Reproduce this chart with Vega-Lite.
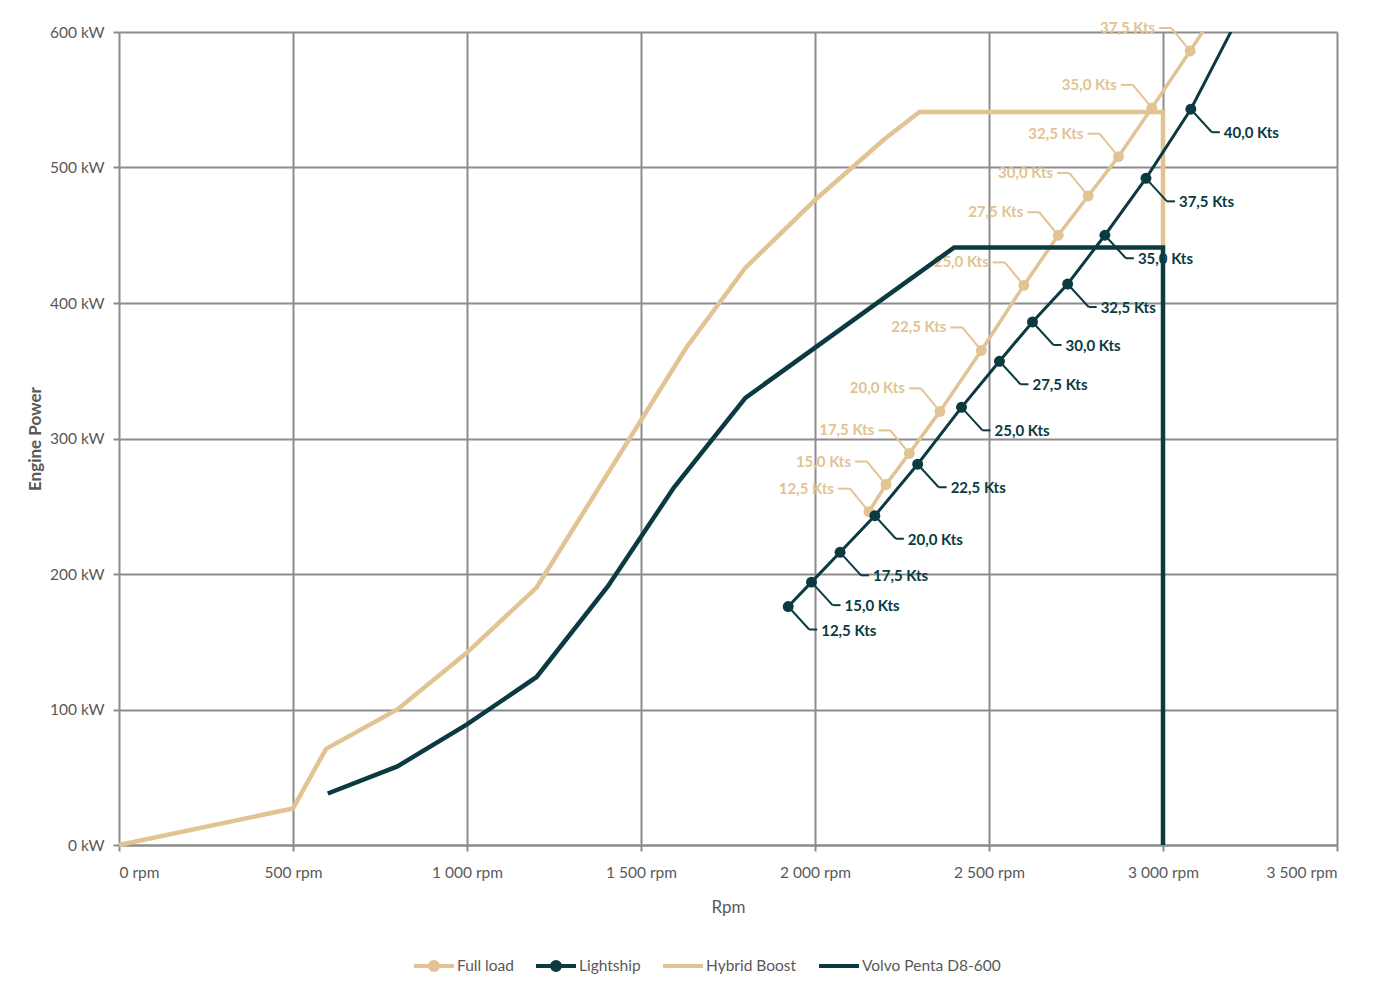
{
  "$schema": "https://vega.github.io/schema/vega-lite/v6.json",
  "width": 1218,
  "height": 813,
  "autosize": {"type": "none"},
  "padding": {"left": 119, "top": 32, "right": 63, "bottom": 155},
  "background": "white",
  "config": {
    "view": {"stroke": null},
    "font": "Lato, Liberation Sans, sans-serif"
  },
  "data": {
    "values": [
      {"series": "Hybrid Boost", "rpm": 0, "kW": 0},
      {"series": "Hybrid Boost", "rpm": 500, "kW": 27},
      {"series": "Hybrid Boost", "rpm": 595, "kW": 71},
      {"series": "Hybrid Boost", "rpm": 800, "kW": 100},
      {"series": "Hybrid Boost", "rpm": 1000, "kW": 142},
      {"series": "Hybrid Boost", "rpm": 1200, "kW": 190},
      {"series": "Hybrid Boost", "rpm": 1630, "kW": 367},
      {"series": "Hybrid Boost", "rpm": 1800, "kW": 426},
      {"series": "Hybrid Boost", "rpm": 2000, "kW": 476},
      {"series": "Hybrid Boost", "rpm": 2200, "kW": 521},
      {"series": "Hybrid Boost", "rpm": 2300, "kW": 541},
      {"series": "Hybrid Boost", "rpm": 3000, "kW": 541},
      {"series": "Hybrid Boost", "rpm": 3000, "kW": 441},
      {"series": "Volvo Penta D8-600", "rpm": 600, "kW": 38},
      {"series": "Volvo Penta D8-600", "rpm": 800, "kW": 58},
      {"series": "Volvo Penta D8-600", "rpm": 1000, "kW": 89},
      {"series": "Volvo Penta D8-600", "rpm": 1200, "kW": 124},
      {"series": "Volvo Penta D8-600", "rpm": 1405, "kW": 191},
      {"series": "Volvo Penta D8-600", "rpm": 1595, "kW": 264},
      {"series": "Volvo Penta D8-600", "rpm": 1800, "kW": 330},
      {"series": "Volvo Penta D8-600", "rpm": 2400, "kW": 441},
      {"series": "Volvo Penta D8-600", "rpm": 3000, "kW": 441},
      {"series": "Volvo Penta D8-600", "rpm": 3000, "kW": 0},
      {"series": "Full load", "rpm": 2155, "kW": 246, "label": "12,5 Kts"},
      {"series": "Full load", "rpm": 2204, "kW": 266, "label": "15,0 Kts"},
      {"series": "Full load", "rpm": 2271, "kW": 289, "label": "17,5 Kts"},
      {"series": "Full load", "rpm": 2359, "kW": 320, "label": "20,0 Kts"},
      {"series": "Full load", "rpm": 2478, "kW": 365, "label": "22,5 Kts"},
      {"series": "Full load", "rpm": 2600, "kW": 413, "label": "25,0 Kts"},
      {"series": "Full load", "rpm": 2699, "kW": 450, "label": "27,5 Kts"},
      {"series": "Full load", "rpm": 2785, "kW": 479, "label": "30,0 Kts"},
      {"series": "Full load", "rpm": 2872, "kW": 508, "label": "32,5 Kts"},
      {"series": "Full load", "rpm": 2968, "kW": 544, "label": "35,0 Kts"},
      {"series": "Full load", "rpm": 3078, "kW": 586, "label": "37,5 Kts"},
      {"series": "Full load", "rpm": 3185, "kW": 628, "label": "40,0 Kts"},
      {"series": "Lightship", "rpm": 1923, "kW": 176, "label": "12,5 Kts"},
      {"series": "Lightship", "rpm": 1990, "kW": 194, "label": "15,0 Kts"},
      {"series": "Lightship", "rpm": 2072, "kW": 216, "label": "17,5 Kts"},
      {"series": "Lightship", "rpm": 2172, "kW": 243, "label": "20,0 Kts"},
      {"series": "Lightship", "rpm": 2295, "kW": 281, "label": "22,5 Kts"},
      {"series": "Lightship", "rpm": 2421, "kW": 323, "label": "25,0 Kts"},
      {"series": "Lightship", "rpm": 2530, "kW": 357, "label": "27,5 Kts"},
      {"series": "Lightship", "rpm": 2625, "kW": 386, "label": "30,0 Kts"},
      {"series": "Lightship", "rpm": 2726, "kW": 414, "label": "32,5 Kts"},
      {"series": "Lightship", "rpm": 2833, "kW": 450, "label": "35,0 Kts"},
      {"series": "Lightship", "rpm": 2951, "kW": 492, "label": "37,5 Kts"},
      {"series": "Lightship", "rpm": 3080, "kW": 543, "label": "40,0 Kts"},
      {"series": "Lightship", "rpm": 3225, "kW": 615, "label": "42,5 Kts"}
    ]
  },
  "encoding": {
    "x": {
      "field": "rpm",
      "type": "quantitative",
      "scale": {"domain": [0, 3500], "nice": false},
      "axis": {
        "title": "Rpm",
        "values": [0, 500, 1000, 1500, 2000, 2500, 3000, 3500],
        "labelExpr": "replace(format(datum.value, ','), ',', ' ') + ' rpm'",
        "grid": true,
        "gridColor": "#8c8c8c",
        "gridWidth": 2,
        "domainColor": "#8c8c8c",
        "domainWidth": 2,
        "tickColor": "#8c8c8c",
        "tickWidth": 2,
        "tickSize": 6,
        "labelFontSize": 15.5,
        "labelColor": "#595959",
        "labelPadding": 14,
        "titleFontSize": 17,
        "titleFontWeight": "normal",
        "titleColor": "#595959",
        "titlePadding": 19
      }
    },
    "y": {
      "field": "kW",
      "type": "quantitative",
      "scale": {"domain": [0, 600], "nice": false},
      "axis": {
        "title": "Engine Power",
        "values": [0, 100, 200, 300, 400, 500, 600],
        "labelExpr": "datum.value + ' kW'",
        "grid": true,
        "gridColor": "#8c8c8c",
        "gridWidth": 2,
        "domain": false,
        "tickColor": "#8c8c8c",
        "tickWidth": 2,
        "tickSize": 6,
        "labelFontSize": 15.5,
        "labelColor": "#595959",
        "labelPadding": 9,
        "titleFontSize": 17,
        "titleFontWeight": "bold",
        "titleColor": "#595959",
        "titlePadding": 5
      }
    }
  },
  "layer": [
    {
      "transform": [{"filter": "datum.series === 'Hybrid Boost'"}],
      "mark": {"type": "line", "strokeWidth": 4.5, "strokeJoin": "miter"},
      "encoding": {
        "order": {"value": null},
        "color": {
          "field": "series",
          "type": "nominal",
          "scale": {
            "domain": ["Full load", "Lightship", "Hybrid Boost", "Volvo Penta D8-600"],
            "range": ["#e2c393", "#0b3a41", "#e2c393", "#0b3a41"]
          },
          "legend": {
            "title": null,
            "orient": "none",
            "legendX": 293,
            "legendY": 912,
            "direction": "horizontal",
            "symbolType": "M-1,0H1",
            "symbolSize": 1600,
            "symbolStrokeWidth": 4,
            "labelFontSize": 15.5,
            "labelColor": "#595959",
            "labelOffset": 1,
            "columnPadding": 14,
            "encode": {
              "symbols": {
                "update": {
                  "shape": {"signal": "datum.value === 'Full load' || datum.value === 'Lightship' ? 'M-1,0H1M-0.2,0A0.2,0.2 0 1,0 0.2,0A0.2,0.2 0 1,0 -0.2,0' : 'M-1,0H1M0,-0.2L0,-0.2M0,0.2L0,0.2'"},
                  "fill": [
                    {"test": "datum.value === 'Full load' || datum.value === 'Lightship'", "scale": "color", "field": "value"},
                    {"value": "transparent"}
                  ]
                }
              }
            }
          }
        }
      }
    },
    {
      "transform": [{"filter": "datum.series === 'Full load'"}],
      "mark": {"type": "line", "strokeWidth": 3.5, "clip": true},
      "encoding": {"color": {"field": "series", "type": "nominal"}}
    },
    {
      "transform": [{"filter": "datum.series === 'Lightship'"}],
      "mark": {"type": "line", "strokeWidth": 3, "clip": true},
      "encoding": {"color": {"field": "series", "type": "nominal"}}
    },
    {
      "transform": [
        {"filter": "(datum.series === 'Full load' || datum.series === 'Lightship') && datum.kW <= 600"}
      ],
      "mark": {"type": "point", "filled": true, "opacity": 1, "size": 120},
      "encoding": {"color": {"field": "series", "type": "nominal"}}
    },
    {
      "transform": [{"filter": "datum.series === 'Full load' && datum.kW <= 600"}],
      "mark": {"type": "rule", "strokeWidth": 2, "x2Offset": -19, "y2Offset": -23},
      "encoding": {
        "x2": {"field": "rpm"},
        "y2": {"field": "kW"},
        "color": {"field": "series", "type": "nominal"}
      }
    },
    {
      "transform": [{"filter": "datum.series === 'Full load' && datum.kW <= 600"}],
      "mark": {"type": "rule", "strokeWidth": 2, "xOffset": -19, "yOffset": -23, "x2Offset": -31, "y2Offset": -23},
      "encoding": {
        "x2": {"field": "rpm"},
        "y2": {"field": "kW"},
        "color": {"field": "series", "type": "nominal"}
      }
    },
    {
      "transform": [{"filter": "datum.series === 'Lightship' && datum.kW <= 600"}],
      "mark": {"type": "rule", "strokeWidth": 2, "x2Offset": 21, "y2Offset": 23},
      "encoding": {
        "x2": {"field": "rpm"},
        "y2": {"field": "kW"},
        "color": {"field": "series", "type": "nominal"}
      }
    },
    {
      "transform": [{"filter": "datum.series === 'Lightship' && datum.kW <= 600"}],
      "mark": {"type": "rule", "strokeWidth": 2, "xOffset": 21, "yOffset": 23, "x2Offset": 29, "y2Offset": 23},
      "encoding": {
        "x2": {"field": "rpm"},
        "y2": {"field": "kW"},
        "color": {"field": "series", "type": "nominal"}
      }
    },
    {
      "transform": [{"filter": "datum.series === 'Full load' && datum.kW <= 600"}],
      "mark": {"type": "text", "align": "right", "baseline": "middle", "dx": -35, "dy": -23, "fontSize": 15, "fontWeight": "bold"},
      "encoding": {
        "text": {"field": "label"},
        "color": {"field": "series", "type": "nominal"}
      }
    },
    {
      "transform": [{"filter": "datum.series === 'Lightship' && datum.kW <= 600"}],
      "mark": {"type": "text", "align": "left", "baseline": "middle", "dx": 33, "dy": 24, "fontSize": 15, "fontWeight": "bold"},
      "encoding": {
        "text": {"field": "label"},
        "color": {"field": "series", "type": "nominal"}
      }
    },
    {
      "transform": [{"filter": "datum.series === 'Volvo Penta D8-600'"}],
      "mark": {"type": "line", "strokeWidth": 4.5, "strokeJoin": "miter"},
      "encoding": {
        "order": {"value": null},
        "color": {"field": "series", "type": "nominal"}
      }
    }
  ]
}
